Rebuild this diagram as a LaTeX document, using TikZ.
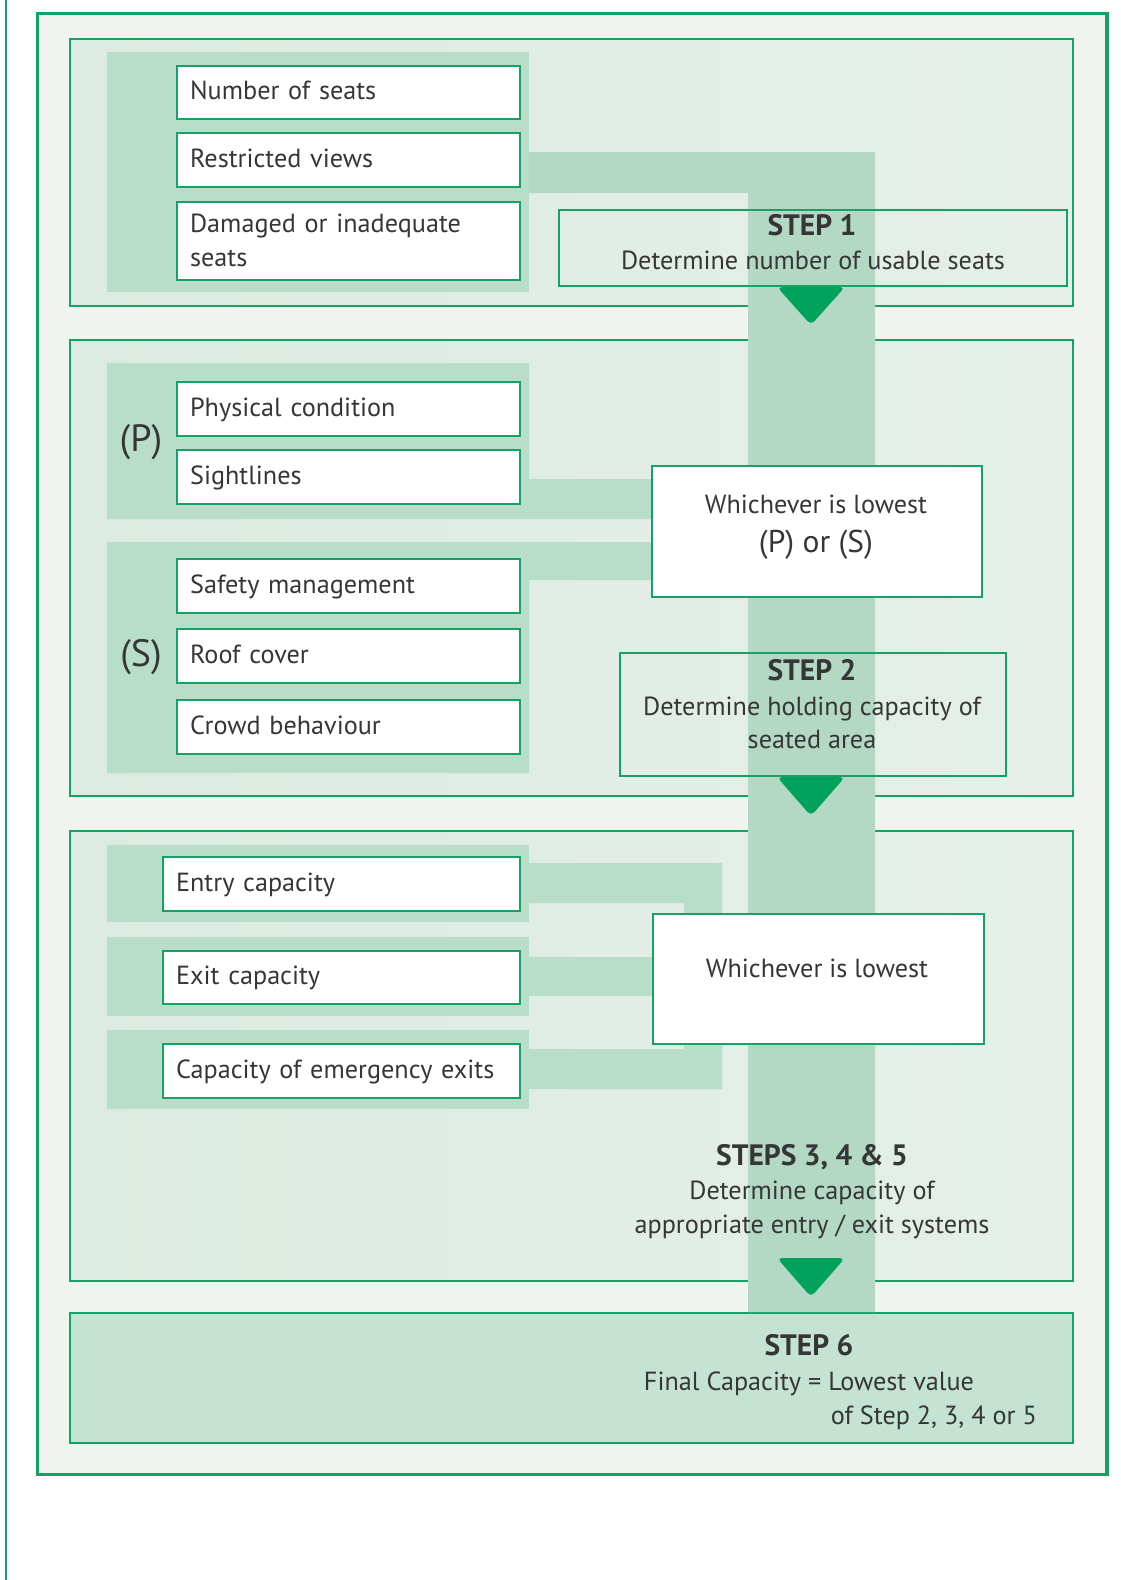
\documentclass[tikz,border=0pt]{standalone}
\usepackage{fontspec}
\setmainfont{PT Sans}
\definecolor{gline}{HTML}{14A367}
\definecolor{garrow}{HTML}{00A25C}
\definecolor{outerfill}{HTML}{EFF4EF}
\definecolor{panelL}{HTML}{DCEBE1}
\definecolor{panelR}{HTML}{E5EFE8}
\definecolor{bandc}{HTML}{B8DDC8}
\definecolor{flowc}{HTML}{B3D9C4}
\definecolor{step6c}{HTML}{C4E3D2}
\definecolor{txt}{HTML}{363636}
\tikzset{
  panelbox/.style={draw=gline, line width=2pt, anchor=north west, inner sep=0pt, left color=panelL, right color=panelR},
  itembox/.style={draw=gline, line width=2.2pt, fill=white, anchor=north west, inner xsep=13pt, inner ysep=0pt,
    align=left, text height=17pt, text depth=3pt, font=\fontsize{26.2}{34}\selectfont, text=txt},
  lowbox/.style={draw=gline, line width=2.2pt, fill=white, anchor=north west, inner sep=0pt},
  stepbox/.style={draw=gline, line width=2pt, anchor=north west, inner sep=0pt},
  band/.style={fill=bandc},
  flow/.style={fill=flowc},
  lbl/.style={inner sep=0pt, text height=18pt, text depth=0pt, text=txt, font=\fontsize{26.2}{34}\selectfont},
  steplbl/.style={inner sep=0pt, text height=20pt, text depth=0pt, text=txt, font=\fontsize{29.5}{34}\selectfont\bfseries},
  biglbl/.style={inner sep=0pt, text height=26pt, text depth=0pt, text=txt, font=\fontsize{38}{42}\selectfont},
  midlbl/.style={inner sep=0pt, text height=21pt, text depth=0pt, text=txt, font=\fontsize{31.5}{36}\selectfont},
  tri/.style={fill=garrow, rounded corners=5pt}
}
\begin{document}
\begin{tikzpicture}[x=1pt,y=-1pt]
\useasboundingbox (0,0) rectangle (1121,1580);
\fill[white] (0,0) rectangle (1121,1580);
% left thin line
\draw[gline, line width=2pt] (6,0) -- (6,1580);
% outer frame
\node[draw=gline, line width=3.5pt, fill=outerfill, anchor=north west, inner sep=0pt,
      minimum width=1069.5pt, minimum height=1461pt] (frame) at (35.5,11.5) {};
% panels
\node[panelbox, minimum width=1003pt, minimum height=267pt] (p1) at (69,38) {};
\node[panelbox, minimum width=1003pt, minimum height=456pt] (p2) at (69,339) {};
\node[panelbox, minimum width=1003pt, minimum height=450pt] (p3) at (69,830) {};
\node[draw=gline, line width=2pt, fill=step6c, anchor=north west, inner sep=0pt,
      minimum width=1003pt, minimum height=130pt] (p4) at (69,1312) {};
% flow band
\fill[flow] (529,152) -- (875,152) -- (875,1312) -- (748,1312) -- (748,193) -- (529,193) -- cycle;
% panel 1 group band
\fill[band] (107,52) rectangle (529,292);
% panel 2 group bands
\fill[band] (107,363) -- (529,363) -- (529,479) -- (651,479) -- (651,519) -- (107,519) -- cycle;
\fill[band] (107,542) -- (651,542) -- (651,580) -- (529,580) -- (529,773) -- (107,773) -- cycle;
% panel 3 bands
\fill[band] (107,845) rectangle (529,922);
\fill[band] (107,937) rectangle (529,1016);
\fill[band] (107,1030) rectangle (529,1109);
\fill[band] (529,863) -- (722,863) -- (722,1089) -- (529,1089) -- (529,1049) -- (684,1049) -- (684,903) -- (529,903) -- cycle;
\fill[band] (529,957) rectangle (652,996);
% panel 1 items
\node[itembox, minimum width=343pt, minimum height=53pt, text width=317pt] (nseats) at (176,65) {Number of seats};
\node[itembox, minimum width=343pt, minimum height=54pt, text width=317pt] (rviews) at (176,132) {Restricted views};
\node[itembox, minimum width=343pt, minimum height=78pt, text width=317pt, text depth=34pt] (damaged) at (176,201) {Damaged or inadequate\\seats};
% step 1
\node[stepbox, minimum width=508pt, minimum height=76pt] (step1) at (558,209) {};
\node[steplbl] (step1t) at (812,225) {STEP 1};
\node[lbl] (step1d) at (813,260) {Determine number of usable seats};
% panel 2 items
\node[itembox, minimum width=343pt, minimum height=54pt, text width=317pt] (phys) at (176,381) {Physical condition};
\node[itembox, minimum width=343pt, minimum height=54pt, text width=317pt] (sight) at (176,449) {Sightlines};
\node[itembox, minimum width=343pt, minimum height=54pt, text width=317pt] (safety) at (176,558) {Safety management};
\node[itembox, minimum width=343pt, minimum height=54pt, text width=317pt] (roof) at (176,628) {Roof cover};
\node[itembox, minimum width=343pt, minimum height=54pt, text width=317pt] (crowd) at (176,699) {Crowd behaviour};
\node[biglbl] (plab) at (141,438) {(P)};
\node[biglbl] (slab) at (141,653) {(S)};
\node[lowbox, minimum width=330pt, minimum height=131pt] (low1) at (651,465) {};
\node[lbl] (low1a) at (816,504) {Whichever is lowest};
\node[midlbl] (low1b) at (816,542) {(P) or (S)};
% step 2
\node[stepbox, minimum width=386pt, minimum height=123pt] (step2) at (619,652) {};
\node[steplbl] (step2t) at (812,670) {STEP 2};
\node[lbl] (step2d) at (812,706) {Determine holding capacity of};
\node[lbl] (step2e) at (812,739) {seated area};
% panel 3 items
\node[itembox, minimum width=357pt, minimum height=54pt, text width=331pt] (entry) at (162,856) {Entry capacity};
\node[itembox, minimum width=357pt, minimum height=53pt, text width=331pt] (exitc) at (162,950) {Exit capacity};
\node[itembox, minimum width=357pt, minimum height=54pt, text width=331pt] (emerg) at (162,1043) {Capacity of emergency exits};
\node[lowbox, minimum width=331pt, minimum height=130pt] (low2) at (652,913) {};
\node[lbl] (low2a) at (817,968) {Whichever is lowest};
\node[steplbl] (step3t) at (812,1155) {STEPS 3, 4 \& 5};
\node[lbl] (step3d) at (812,1190) {Determine capacity of};
\node[lbl] (step3e) at (812,1224) {appropriate entry / exit systems};
% step 6
\node[steplbl] (step6t) at (809,1345) {STEP 6};
\node[lbl] (step6d) at (809,1381) {Final Capacity = Lowest value};
\node[lbl, anchor=east] (step6e) at (1037,1415) {of Step 2, 3, 4 or 5};
% arrows
\fill[tri] (777,287) -- (845,287) -- (811,325) -- cycle;
\fill[tri] (777,777) -- (845,777) -- (811,816) -- cycle;
\fill[tri] (777,1258) -- (845,1258) -- (811,1297) -- cycle;
\end{tikzpicture}
\end{document}
